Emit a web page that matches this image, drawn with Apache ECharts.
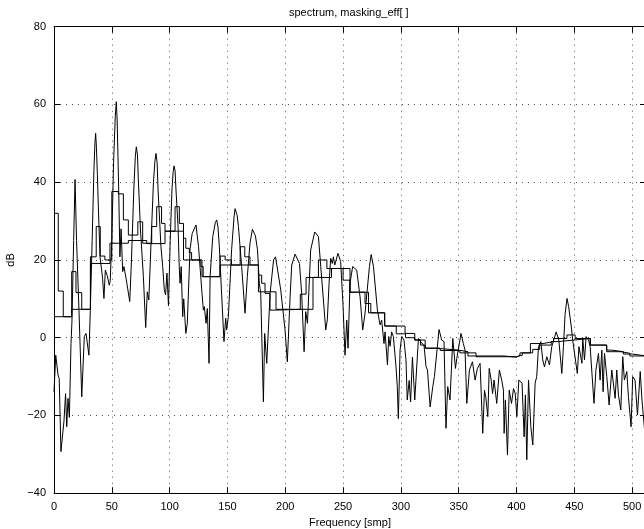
<!DOCTYPE html>
<html>
<head>
<meta charset="utf-8">
<script src="https://cdn.jsdelivr.net/npm/echarts@6/dist/echarts.min.js"></script>
<style>
  html, body { margin: 0; padding: 0; background: #fff; }
  #main { width: 644px; height: 529px; }
</style>
</head>
<body>
<div id="main"></div>
<script>
// spectrum (frequency sample, dB)
const specX = [0, 1.5, 3.5, 4.5, 6, 8.6, 10, 11, 12.1, 13.3, 14.7, 15.5, 17, 18.2, 19.5, 21.6, 24, 26.2, 27.7, 30.2,
    31.4, 33, 34.5, 35.4, 36, 36.7, 37.5, 38.9, 39.8, 41.2, 42, 43.2, 44.4, 46, 47.8, 48.6, 50, 51.5, 53, 53.9, 54.6, 55.3, 56, 57,
    58, 59.4, 60.5, 62.3, 63.5, 65.5, 67, 69, 70.3, 71.2, 72.2, 72.9, 74.8, 77.3, 79.3, 80.7, 82, 84, 86, 87.3, 88.2, 89.2, 90, 92.5,
    94, 95.4, 96.5, 97.7, 99, 100.5, 102, 103, 103.8, 104.7, 105.5, 107.3, 108.3, 109, 110, 111.3, 112.2, 114, 115.3, 117.6, 119.5, 122.8,
    125, 128, 129.2, 130, 131.5, 132.6, 134.1, 135, 137.3, 139.5, 140.7, 141.8, 143, 144.8, 147, 148.5, 149.3, 150.8, 153.6, 155.7, 156.6, 157.4, 158.4, 159.5,
    162.3, 165.2, 167.2, 169.5, 171.6, 174.2, 176, 177.6, 178.8, 181.1, 182.2, 184, 186.9, 189.9, 191.6, 193.3, 196.1, 199.8, 201.8, 204.2,
    205.6, 208.5, 210, 212.3, 214.2, 216.3, 217.7, 219.2, 222, 225.5, 226.6, 228.7, 230.7, 233, 235, 236.4, 237.9, 239.3, 240.7, 241.6, 242.8, 245.6,
    247.9, 249.9, 251.7, 253.2, 254.3, 256, 258.3, 259.5, 261.8, 264.7, 267, 269, 272.8, 274.3, 276.3, 279.7, 282, 283.4, 285.4, 286.3, 288.4,
    289.5, 290.7, 292, 293.5, 295.8, 296.9, 297.8, 299.3, 300.7, 302.7, 304.4, 305.5, 307.2, 308.4, 310, 312, 315.2, 317, 320, 321.8,
    323, 325.3, 327.6, 329, 333, 335.3, 337.3, 339, 340.5, 342.5, 344.9, 347.2, 348.4, 352, 354, 355.5, 357, 359.3, 361.9, 364.2,
    366.2, 368.5, 370.8, 372.3, 373.4, 375.2, 376.4, 378.1, 379.3, 380.6, 382.9, 385.2, 387.2, 388.7, 389.3, 390.4, 392.2, 393.7, 395.7, 397.4,
    398.9, 400.3, 402, 403.1, 404.8, 406.6, 407.7, 408.9, 410.4, 412.4, 414.1, 416.1, 417.5, 419, 421, 422.7, 424.2, 426.2, 428.5, 430.5,
    434.3, 436.6, 439.2, 440.6, 442, 443.7, 445.1, 447.4, 448.6, 452.6, 454, 455.2, 456.6, 457.3, 458.8, 460.2, 462.3, 463.7, 467, 468.7,
    470.9, 472.3, 473.8, 474.9, 476.1, 478.1, 480.1, 482.4, 483.8, 485.3, 486.7, 488.2, 490.2, 491.9, 493.3, 495.4, 496.8, 499.1, 500.5, 502.5,
    504.6, 507, 508.5, 510.8, 512];
const specDb = [-13.9, -4.5, -9.6, -10.5, -29.3, -21.5, -14.4, -22.9, -15.6, -20.5, -1.5, 4, 25, 40.7, 25, 7, -15.2, 0.3, 1.1, -4.5,
    7, 25, 43, 50, 52.6, 49, 42, 28.6, 20.8, 17.4, 15.3, 10.1, 17.4, 16, 13.5, 14.5, 25, 45, 57, 60.7, 56, 47, 37.3, 20.8,
    28, 17, 18.3, 15.3, 14.8, 9.3, 20, 38, 46.5, 49.1, 47, 41, 27.7, 15.7, 2.6, 11.8, 9.7, 25, 40, 45.5, 47.4, 45, 38, 23.4,
    18.3, 12.3, 11, 16.6, 8.2, 25, 38, 42.5, 44.2, 43, 38, 28.6, 18.3, 14, 18.3, 5.4, 10, 1.1, 3.7, 22.6, 26.8, 29,
    23.4, 11.4, 7.1, 8, 3.7, 7.5, -6.6, 15.7, 26, 29.6, 30.3, 28.5, 23.4, 12.3, -1, 5, 2, 5.4, 22.6, 31, 33.2, 33.5, 31.5, 28.6,
    18.3, 6.3, 15.7, 24.3, 27.9, 26.2, 22.6, 14, 11.4, -16.5, 1.1, -6.6, 11.4, 20, 20.8, 20.4, 12.3, 2, -6.2, 10.5,
    18.7, 21.5, 21.9, 19.1, 11.4, -3.6, 6.7, 3.7, 22.6, 27.2, 27.5, 26, 18.3, 9.7, 2, 4.6, 14, 20.4, 19.1, 20.8, 18.7, 21.7,
    19.6, 8.8, -4.5, 4.5, -2.7, 14, 18.3, 18.7, 17.4, 10.5, 2, 6.3, 18.3, 21.4, 18.3, 7.1, 3.3, 4.5, -1.5, 1.5, -7,
    0.3, -2.2, 1.5, 0.3, -7.5, -12.6, -20.8, -3.2, 0.3, -0.6, -5.7, -16, -11, -16.5, -5, -16, -0.2, -1, -2, -7.5,
    -8.3, -17.8, -12.6, -10, 2.1, -0.6, -1, -23.3, -12.6, -16, -0.2, -7.9, -5.3, 1.1, -1.5, -3.2, -16.9, -8.3, -6.2, -10.9,
    -7.9, -6.6, -24.6, -13.5, -15.2, -20.3, -7.9, -10.9, -14.4, -10.9, -16.9, -8.3, -10.9, -13.5, -24.6, -16, -30.2, -13.5, -16.9, -13.1,
    -14.4, -20.3, -10.9, -10.9, -11.7, -25.5, -14.7, -31.4, -10.9, -22.9, -27.6, -11.7, -10, -2.3, -1, -5.7, -7.5, -4.9, -7, -2.3,
    1.5, -0.6, -9.2, -2.3, 6, 10.1, 8, 2.8, -0.6, -9.2, -2.3, -1.9, -6.6, -0.2, -5.7, 0.3, -0.6, -2.3, -16.9, -8.3,
    -4, -10.9, -3.2, -13.9, -4, -10, -17.3, -8.3, -7.9, -15.6, -8.3, -14.8, -18.6, -4.9, -10.9, -8.7, -15.2, -22.9, -10, -10.9,
    -19.9, -8.7, -16, -23.8, -20];

// masking curve with fine steps
const maskAX = [0, 3.7, 8, 15.3, 19, 24, 31.5, 36.5, 40, 44, 50, 55.6, 60, 64.3, 72.5, 76.7, 84.5, 88.8, 93, 96,
    104.7, 108.4, 112, 114, 117, 119, 127, 129, 143.6, 148, 153.5, 161, 165, 169.5, 176.8, 179.6, 182.5, 186.8, 192, 213,
    218, 228.7, 236, 250, 256, 269, 274, 286, 296, 304, 312, 317, 321, 330, 350, 358, 389, 400, 403, 412,
    423, 432, 443.6, 450.7, 464, 478, 490, 498, 512];
const maskADb = [32, 12, 5.4, 17, 11.6, 7.3, 20.8, 28.6, 21, 20, 37.6, 37, 30.3, 26.4, 29.8, 24.3, 28.6, 33.7, 29.4, 27.4,
    33.7, 29.4, 25.6, 23, 21.9, 20, 18.3, 15.7, 21, 20, 18.7, 23.4, 20.8, 18.7, 16.1, 14, 11.4, 7.1, 7.3, 11.2,
    15.5, 20, 17.8, 14.8, 11.7, 8.8, 6.4, 3, 1, 0, -0.6, -1.9, -2.7, -3.2, -3.6, -4.7, -5, -4.5, -3.9, -1.5,
    -1, -0.2, 0.7, -0.2, -1.9, -3.6, -4, -4.7, -4.7];

// masking curve with coarse steps
const maskBX = [0, 15.3, 31.5, 48.4, 64.3, 80.2, 96, 112, 128, 143.6, 176.8, 192, 224, 240, 256, 272, 286, 303.6, 312, 321,
    334, 351, 365, 400, 405, 414, 420, 430, 436, 450, 463.6, 478, 482.4, 492.5, 500, 512];
const maskBDb = [5.4, 7.3, 19.1, 24.3, 25, 24.2, 27.4, 20, 15.7, 18.7, 11.8, 7.3, 15.5, 17.8, 11.7, 6.4, 3, 1.1, -0.6, -2.7,
    -3.3, -3.9, -4.9, -4.5, -3.9, -3, -1.9, -1, -0.6, -0.2, -1.9, -3.2, -3.6, -4.2, -4.7, -4.7];

const xTicks = [0, 50, 100, 150, 200, 250, 300, 350, 400, 450, 500];

function zip(xs, ys) {
    return xs.map((x, i) => [x, ys[i]]);
}

let myChart = echarts.init(document.getElementById('main'), null, { renderer: 'canvas' });

const font = 'Liberation Sans, Arial, Helvetica, sans-serif';
const gridLine = { show: true, lineStyle: { color: '#555', width: 1, type: [1, 5] } };
const frameLine = { show: true, onZero: false, lineStyle: { color: '#000', width: 1 } };
const innerTick = { show: true, inside: true, length: 6, lineStyle: { color: '#000' } };

let option = {
    animation: false,
    backgroundColor: '#fff',
    title: {
        text: 'spectrum, masking_eff[ ]',
        left: 289,
        top: 7,
        padding: 0,
        textStyle: { fontFamily: font, fontSize: 11, fontWeight: 'normal', color: '#000' }
    },
    grid: { left: 54, top: 26.7, width: 592, height: 466.5, outerBoundsMode: 'none' },
    xAxis: [
        {
            type: 'value', min: 0, max: 512, interval: 50, position: 'bottom',
            name: 'Frequency [smp]', nameLocation: 'middle', nameGap: 20,
            nameTextStyle: { fontFamily: font, fontSize: 11, color: '#000' },
            axisLine: frameLine,
            axisTick: innerTick,
            axisLabel: {
                margin: 8, fontFamily: font, fontSize: 11, color: '#000',
                formatter: v => (xTicks.indexOf(v) >= 0 ? String(v) : '')
            },
            splitLine: gridLine
        },
        {
            type: 'value', min: 0, max: 512, interval: 50, position: 'top',
            axisLine: frameLine,
            axisTick: innerTick,
            axisLabel: { show: false },
            splitLine: { show: false }
        }
    ],
    yAxis: [
        {
            type: 'value', min: -40, max: 80, interval: 20, position: 'left',
            name: 'dB', nameLocation: 'middle', nameGap: 33,
            nameTextStyle: { fontFamily: font, fontSize: 11, color: '#000' },
            axisLine: frameLine,
            axisTick: innerTick,
            axisLabel: {
                margin: 8, fontFamily: font, fontSize: 11, color: '#000',
                formatter: v => String(v).replace('-', '\u2212')
            },
            splitLine: gridLine
        },
        {
            type: 'value', min: -40, max: 80, interval: 20, position: 'right',
            axisLine: frameLine,
            axisTick: innerTick,
            axisLabel: { show: false },
            splitLine: { show: false }
        }
    ],
    series: [
        {
            name: 'spectrum', type: 'line', data: zip(specX, specDb),
            showSymbol: false, lineStyle: { color: '#000', width: 1 }
        },
        {
            name: 'masking A', type: 'line', step: 'end', data: zip(maskAX, maskADb),
            showSymbol: false, lineStyle: { color: '#000', width: 1 }
        },
        {
            name: 'masking B', type: 'line', step: 'end', data: zip(maskBX, maskBDb),
            showSymbol: false, lineStyle: { color: '#000', width: 1 }
        }
    ]
};
myChart.setOption(option);
</script>
</body>
</html>
